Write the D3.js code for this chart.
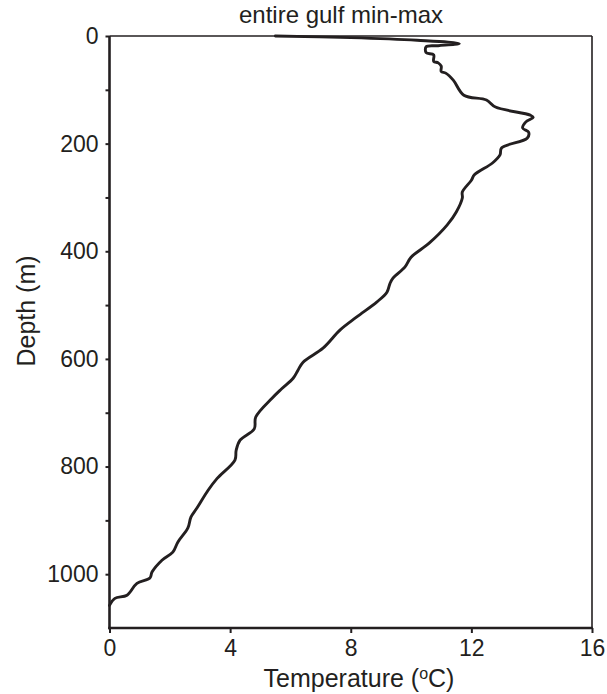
<!DOCTYPE html>
<html>
<head>
<meta charset="utf-8">
<script src="https://cdn.jsdelivr.net/npm/d3@7"></script>
<style>
  html, body { margin: 0; padding: 0; background: #fff; }
  svg { display: block; }
  text { font-family: "Liberation Sans", Arial, Helvetica, sans-serif; fill: #231f20; }
</style>
</head>
<body>
<svg id="chart" width="607" height="694"></svg>
<script>
// Temperature profile (°C) against depth (m), top to bottom
const temperature = [
  5.5, 8.0, 10.2, 11.6, 10.9, 10.5, 10.5, 10.75, 10.75, 10.9,
  11.0, 11.0, 11.15, 11.4, 11.75, 12.5, 12.8, 13.95, 14.05, 13.8,
  13.7, 13.9, 13.85, 13.0, 12.95, 12.7, 12.1, 12.0, 11.7, 11.7,
  11.5, 11.2, 10.6, 10.0, 9.8, 9.4, 9.3, 9.2, 8.87, 8.2,
  7.65, 7.08, 6.42, 6.25, 6.09, 5.7, 5.39, 4.85, 4.8, 4.33,
  4.2, 4.16, 3.57, 3.27, 2.9, 2.7, 2.6, 2.27, 2.1, 1.74,
  1.41, 1.34, 0.91, 0.58, 0.18, 0.0
];
const depth = [
  0, 3, 8, 14, 18, 20, 31, 35, 47, 50,
  56, 66, 69, 82, 110, 119, 132, 147, 151, 160,
  171, 179, 190, 208, 221, 236, 258, 268, 290, 301,
  327, 351, 385, 411, 429, 450, 460, 476, 494, 522,
  546, 580, 606, 621, 636, 656, 673, 708, 730, 751,
  770, 788, 822, 844, 877, 894, 914, 940, 959, 974,
  996, 1007, 1017, 1039, 1045, 1058
];
const xTicks = [0, 4, 8, 12, 16];
const yTicks = [0, 100, 200, 300, 400, 500, 600, 700, 800, 900, 1000];
const yLabelled = [0, 200, 400, 600, 800, 1000];

const title = "entire gulf min-max";
const xTitle = "Temperature (";
const yTitle = "Depth (m)";

const ink = "#231f20";
const svg = d3.select("#chart");
const margin = { top: 36, right: 15, bottom: 66, left: 109.5 };
const W = 607, H = 694;

const x = d3.scaleLinear().domain([0, 16]).range([margin.left, W - margin.right]);
const y = d3.scaleLinear().domain([0, 1100]).range([margin.top, H - margin.bottom]);

// Frame: thin top and right edges
svg.append("line")
  .attr("x1", x(0)).attr("x2", x(16)).attr("y1", y(0)).attr("y2", y(0))
  .attr("stroke", ink).attr("stroke-width", 1.4);
svg.append("line")
  .attr("x1", x(16)).attr("x2", x(16)).attr("y1", y(0)).attr("y2", y(1100))
  .attr("stroke", ink).attr("stroke-width", 1.6);

// Left axis
const yAxis = d3.axisLeft(y)
  .tickValues(yTicks)
  .tickSize(4)
  .tickPadding(7)
  .tickFormat(d => yLabelled.includes(d) ? d : "");
const gy = svg.append("g").attr("transform", `translate(${x(0)},0)`).call(yAxis);
gy.select(".domain").attr("stroke", ink).attr("stroke-width", 2.6)
  .attr("d", `M0,${y(0)}V${y(1100) + 1.3}`);
gy.selectAll(".tick line").attr("stroke", ink).attr("stroke-width", 2);
gy.selectAll(".tick text").attr("font-size", 23).attr("fill", ink)
  .style("font-family", "'Liberation Sans', Arial, sans-serif");

// Bottom axis
const xAxis = d3.axisBottom(x)
  .tickValues(xTicks)
  .tickSize(5)
  .tickPadding(7)
  .tickFormat(d3.format("d"));
const gx = svg.append("g").attr("transform", `translate(0,${y(1100)})`).call(xAxis);
gx.select(".domain").attr("stroke", ink).attr("stroke-width", 2.6)
  .attr("d", `M${x(0) - 1.3},0H${x(16) + 0.8}`);
gx.selectAll(".tick line").attr("stroke", ink).attr("stroke-width", 2);
gx.selectAll(".tick text").attr("font-size", 23).attr("fill", ink)
  .style("font-family", "'Liberation Sans', Arial, sans-serif");

// Profile line
const pts = temperature.map((t, i) => [t, depth[i]]);
const line = d3.line()
  .x(d => x(d[0]))
  .y(d => y(d[1]))
  .curve(d3.curveCatmullRom.alpha(0.5));
svg.append("path")
  .datum(pts)
  .attr("d", line)
  .attr("fill", "none")
  .attr("stroke", ink)
  .attr("stroke-width", 2.9)
  .attr("stroke-linejoin", "round")
  .attr("stroke-linecap", "round");

// Titles
svg.append("text")
  .attr("x", 341).attr("y", 23)
  .attr("text-anchor", "middle")
  .attr("font-size", 24)
  .text(title);

const xt = svg.append("text")
  .attr("x", 359).attr("y", 687)
  .attr("text-anchor", "middle")
  .attr("font-size", 25);
xt.append("tspan").text(xTitle);
xt.append("tspan").attr("font-size", 16).attr("dy", -8).text("o");
xt.append("tspan").attr("dy", 8).text("C)");

svg.append("text")
  .attr("transform", "translate(35,311) rotate(-90)")
  .attr("text-anchor", "middle")
  .attr("font-size", 25)
  .text(yTitle);
</script>
</body>
</html>
